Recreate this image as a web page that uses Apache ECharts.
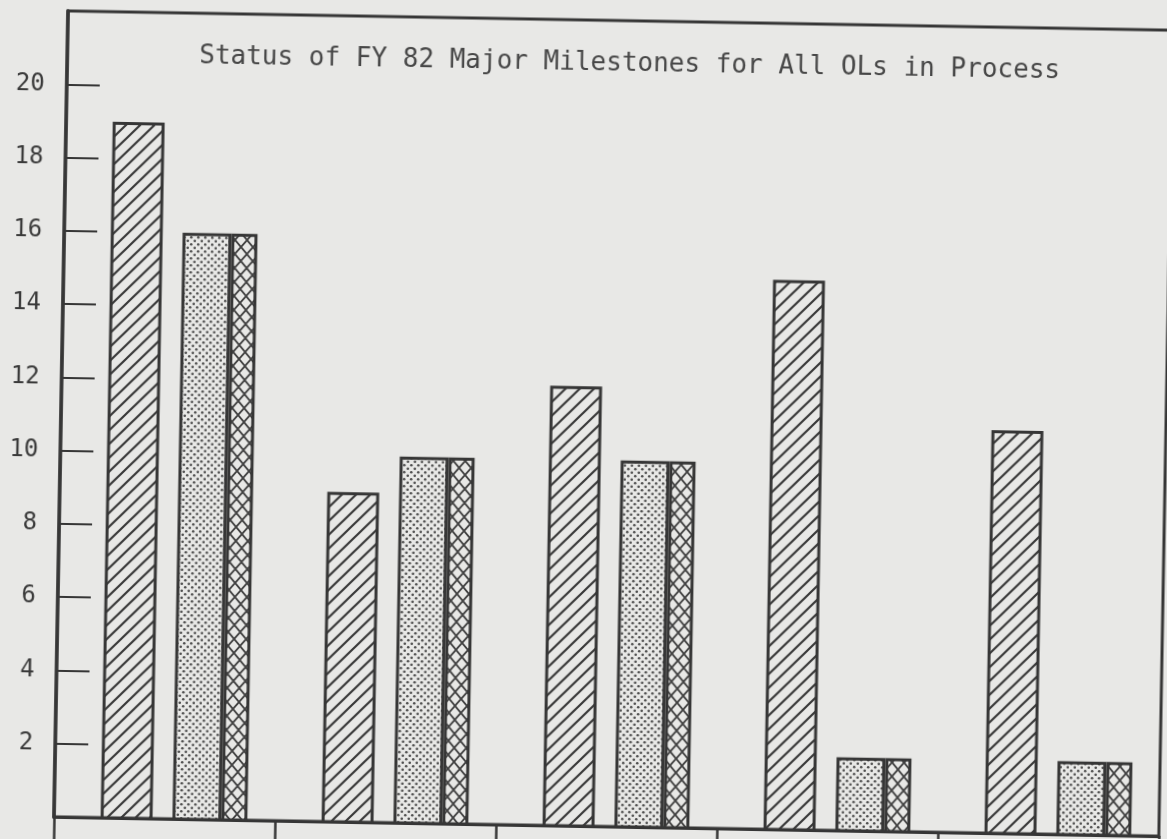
<!DOCTYPE html>
<html>
<head>
<meta charset="utf-8">
<script src="https://cdn.jsdelivr.net/npm/echarts@6/dist/echarts.min.js"></script>
<style>
html, body { margin: 0; padding: 0; width: 1167px; height: 839px; overflow: hidden; background: #e8e8e6; }
#chart { position: absolute; left: -20px; top: -20px; width: 1207px; height: 879px; transform: rotate(1deg); transform-origin: 50% 50%; }
</style>
</head>
<body>
<div id="chart"></div>
<script>
// ---- data ----
const categories = ['Group 1', 'Group 2', 'Group 3', 'Group 4', 'Group 5'];
const yTickLabels = [2, 4, 6, 8, 10, 12, 14, 16, 18, 20];
const hatchedValues = [19, 9, 12, 15, 11];
const dottedValues = [16, 10, 10, 2, 2];
const crossValues = [16, 10, 10, 2, 2];
const titleText = 'Status of FY 82 Major Milestones for All OLs in Process';

// ---- styling ----
const BG = '#e8e8e6';
const INK = '#363636';

function makeCanvas(w, h) {
  const c = document.createElement('canvas');
  c.width = w; c.height = h;
  const g = c.getContext('2d');
  g.fillStyle = BG; g.fillRect(0, 0, w, h);
  return [c, g];
}
function hatchPattern() {
  const s = 14;
  const [c, g] = makeCanvas(s, s);
  g.strokeStyle = '#393939'; g.lineWidth = 2.2; g.lineCap = 'square';
  g.beginPath();
  g.moveTo(-2, s + 2); g.lineTo(s + 2, -2);
  g.moveTo(-3, 3); g.lineTo(3, -3);
  g.moveTo(s - 3, s + 3); g.lineTo(s + 3, s - 3);
  g.stroke();
  return c;
}
function dotPattern() {
  const s = 7;
  const [c, g] = makeCanvas(s, s);
  g.fillStyle = '#505050';
  [[1.75, 1.75], [5.25, 5.25]].forEach(p => { g.beginPath(); g.arc(p[0], p[1], 1.3, 0, Math.PI * 2); g.fill(); });
  return c;
}
function crossPattern() {
  const w = 12, h = 14;
  const [c, g] = makeCanvas(w, h);
  g.strokeStyle = '#424242'; g.lineWidth = 1.8;
  g.beginPath();
  g.moveTo(0, 0); g.lineTo(w, h);
  g.moveTo(w, 0); g.lineTo(0, h);
  g.stroke();
  return c;
}
const hatchImg = hatchPattern(), dotImg = dotPattern(), crossImg = crossPattern();

function barRenderer(f0, f1, img) {
  return function (params, api) {
    const idx = api.value(0);
    const base = api.coord([idx, 0]);
    const top = api.coord([idx, api.value(1)]);
    const band = api.size([1, 0])[0];
    const x0 = base[0] + f0 * band, x1 = base[0] + f1 * band;
    const lw = 3;
    return {
      type: 'rect',
      shape: { x: x0 + lw / 2, y: top[1] + lw / 2, width: x1 - x0 - lw, height: base[1] - top[1] - lw / 2 },
      style: { fill: { image: img, repeat: 'repeat' }, stroke: INK, lineWidth: lw }
    };
  };
}
function toPairs(arr) { return arr.map((v, i) => [i, v]); }

const chart = echarts.init(document.getElementById('chart'), null, { renderer: 'canvas' });
chart.setOption({
  backgroundColor: BG,
  animation: false,
  title: {
    text: titleText, left: 213, top: 70, padding: 0,
    textStyle: { fontFamily: 'DejaVu Sans Mono', fontSize: 26, fontWeight: 'normal', color: '#474747' }
  },
  grid: { left: 81, right: 21, top: 40, bottom: 33, show: true, borderColor: INK, borderWidth: 3, backgroundColor: 'transparent' },
  xAxis: {
    type: 'category', data: categories, boundaryGap: true,
    axisLine: { show: true, lineStyle: { color: INK, width: 3 } },
    axisTick: { show: true, length: 30, lineStyle: { color: INK, width: 2.5 } },
    axisLabel: { show: false },
    splitLine: { show: false }
  },
  yAxis: {
    type: 'value', min: 0, max: 22, interval: 2,
    axisLine: { show: true, lineStyle: { color: INK, width: 3.5 } },
    axisTick: { show: true, inside: true, length: 33, lineStyle: { color: INK, width: 2 } },
    splitLine: { show: false },
    axisLabel: {
      margin: 22, padding: [0, 0, 28, 0],
      fontFamily: 'DejaVu Sans Mono', fontSize: 24, color: '#3a3a3a',
      formatter: v => (yTickLabels.indexOf(v) >= 0 ? String(v) : '')
    }
  },
  series: [
    { type: 'custom', name: 'hatched', data: toPairs(hatchedValues), encode: { x: 0, y: 1 }, renderItem: barRenderer(-0.289, -0.054, hatchImg) },
    { type: 'custom', name: 'dotted', data: toPairs(dottedValues), encode: { x: 0, y: 1 }, renderItem: barRenderer(0.036, 0.257, dotImg) },
    { type: 'custom', name: 'crosshatched', data: toPairs(crossValues), encode: { x: 0, y: 1 }, renderItem: barRenderer(0.257, 0.375, crossImg) }
  ]
});
</script>
</body>
</html>
